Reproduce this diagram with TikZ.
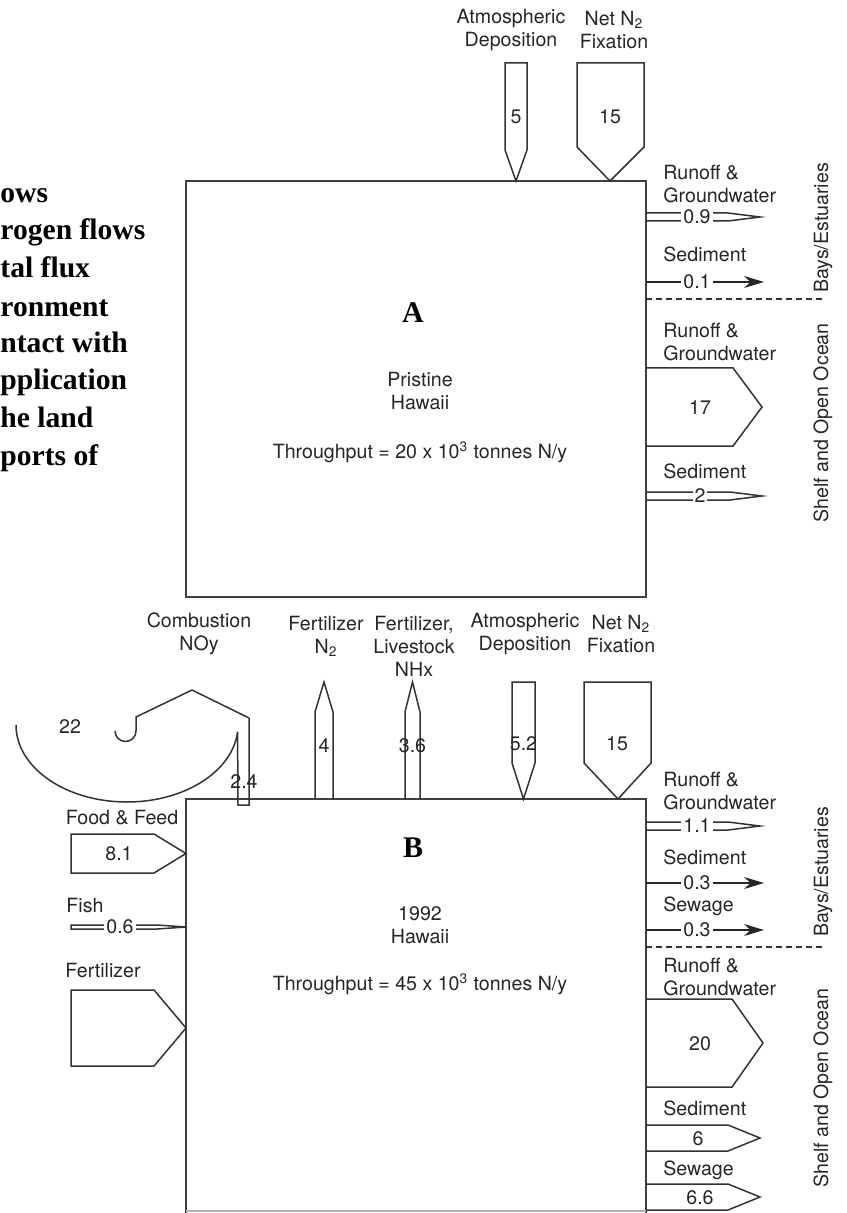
\documentclass[tikz,border=0pt]{standalone}
\usepackage{fontspec}
\setmainfont{Liberation Serif}
\setsansfont{TeX Gyre Heros}
\usetikzlibrary{arrows.meta}
\begin{document}
\begin{tikzpicture}[x=0.5pt,y=-0.5pt,
  every node/.style={inner sep=0pt, text=black!85},
  lbl/.style={font=\sffamily\fontsize{9.8}{11.5}\selectfont, align=center},
  lbll/.style={lbl, align=left, anchor=west},
  num/.style={font=\sffamily\fontsize{9.8}{11.5}\selectfont},
  numw/.style={num, fill=white, inner xsep=1pt, inner ysep=0.5pt},
  flowbox/.style={draw=black!80, line width=0.75pt, line join=miter},
  mainbox/.style={draw=black!75, line width=1pt},
  thinarrow/.style={draw=black!85, line width=0.75pt, -{Stealth[length=10pt,width=6pt]}},
  sidetext/.style={lbl, rotate=90},
  bigtitle/.style={font=\bfseries\fontsize{15}{18}\selectfont},
  cutline/.style={font=\bfseries\fontsize{14.8}{18}\selectfont, anchor=base west, text=black},
]
\useasboundingbox (0,0) rectangle (846,1213);

% ---- caption text at left (shown cropped in the reference)
\node[cutline] (c1) at (0,203) {ows};
\node[cutline] (c2) at (0,240) {rogen flows};
\node[cutline] (c3) at (0,278) {tal flux};
\node[cutline] (c4) at (0,317) {ronment};
\node[cutline] (c5) at (0,353) {ntact with};
\node[cutline] (c6) at (0,390) {pplication};
\node[cutline] (c7) at (0,428) {he land};
\node[cutline] (c8) at (0,465) {ports of};

% =================== PANEL A ===================
\draw[mainbox] (186,181) rectangle (646,597);

% inputs on top
\draw[flowbox] (505,63) -- (527,63) -- (527,150) -- (516,181) -- (505,150) -- cycle;
\node[num] (a5) at (516,117) {5};
\draw[flowbox] (577,63) -- (644,63) -- (644,147) -- (610,181) -- (577,147) -- cycle;
\node[num] (a15) at (610,117) {15};
\node[lbl] (aAtm) at (511,30) {Atmospheric\\Deposition};
\node[lbl] (aFix) at (614,30) {Net N\textsubscript{2}\\Fixation};

% outputs, bays
\node[lbll] (aRun1) at (663,184) {Runoff \&\\Groundwater};
\draw[flowbox] (646,213) -- (728,213) -- (760,217) -- (728,221) -- (646,221);
\node[numw] (a09) at (697,217) {0.9};
\node[lbll] (aSed1) at (663,254) {Sediment};
\coordinate (aS1a) at (646,282);
\coordinate (aS1b) at (764,282);
\draw[thinarrow] (aS1a) -- (aS1b);
\node[numw] (a01) at (697,282) {0.1};
\draw[black!80, line width=0.6pt, dash pattern=on 3pt off 2pt] (646,299) -- (824,299);
\node[sidetext] (aBays) at (823,228) {Bays/Estuaries};

% outputs, shelf
\node[lbll] (aRun2) at (663,342) {Runoff \&\\Groundwater};
\draw[flowbox] (646,368) -- (733,368) -- (762,407) -- (733,446) -- (646,446);
\node[num] (a17) at (700,408) {17};
\node[lbll] (aSed2) at (663,471) {Sediment};
\draw[flowbox] (646,492) -- (730,492) -- (762,496) -- (730,500) -- (646,500);
\node[numw] (a2) at (700,496) {2};
\node[sidetext] (aShelf) at (823,423) {Shelf and Open Ocean};

% centre
\node[bigtitle, text=black] (A) at (413,313) {A};
\node[lbl] (aPr) at (420,391) {Pristine\\Hawaii};
\node[lbl] (aTh) at (420,452) {Throughput = 20 x 10\textsuperscript{3} tonnes N/y};

% =================== PANEL B ===================
\draw[mainbox] (186,1213) -- (186,799) -- (646,799) -- (646,1213);
\draw[black!30, line width=0.8pt] (186,1211) -- (646,1211);

% combustion NOy
\draw[flowbox] (249,718) -- (192,690) -- (136,717) -- (136,731)
  arc[start angle=0, end angle=180, radius=10.5];
\draw[flowbox] (16,725) arc[start angle=180, end angle=5, x radius=111, y radius=77]
  -- (238,805) -- (249,805) -- (249,718);
\node[num] (b22) at (70,727) {22};
\node[num] (b24) at (244,782) {2.4};
\node[lbl] (bComb) at (199,634) {Combustion\\NOy};

% fertilizer N2 (upward)
\draw[flowbox] (315,799) -- (315,712) -- (324,682) -- (333,712) -- (333,799);
\node[num] (b4) at (324,746) {4};
\node[lbl] (bFert) at (326,636) {Fertilizer\\N\textsubscript{2}};

% fertilizer livestock NHx (upward)
\draw[flowbox] (405,799) -- (405,712) -- (412.5,682) -- (420,712) -- (420,799);
\node[num] (b36) at (412.5,746) {3.6};
\node[lbl] (bLive) at (414,646) {Fertilizer,\\Livestock\\NHx};

% atmospheric deposition
\draw[flowbox] (512,682) -- (535,682) -- (535,763) -- (523.5,799) -- (512,763) -- cycle;
\node[num] (b52) at (523.5,744) {5.2};
\node[lbl] (bAtm) at (525,634) {Atmospheric\\Deposition};

% net N2 fixation
\draw[flowbox] (584,682) -- (651,682) -- (651,763) -- (618,799) -- (584,763) -- cycle;
\node[num] (b15) at (617,744) {15};
\node[lbl] (bFix) at (621,634) {Net N\textsubscript{2}\\Fixation};

% left inputs
\node[lbl] (bFood) at (122,818) {Food \& Feed};
\draw[flowbox] (71,834) -- (154,834) -- (186,853.5) -- (154,873) -- (71,873) -- cycle;
\node[num] (b81) at (119,853.5) {8.1};
\node[lbl] (bFish) at (85,905) {Fish};
\draw[flowbox] (71,925) -- (157,925) -- (186,927) -- (157,929) -- (71,929) -- cycle;
\node[numw] (b06) at (120,927) {0.6};
\node[lbl] (bFertL) at (103,970) {Fertilizer};
\draw[flowbox] (71,990) -- (154,990) -- (186,1028) -- (154,1066) -- (71,1066) -- cycle;

% outputs, bays
\node[lbll] (bRun1) at (663,791) {Runoff \&\\Groundwater};
\draw[flowbox] (646,822) -- (728,822) -- (760,826) -- (728,830) -- (646,830);
\node[numw] (b11) at (697,826) {1.1};
\node[lbll] (bSed1) at (663,857) {Sediment};
\coordinate (bS1a) at (646,883);
\coordinate (bS1b) at (764,883);
\draw[thinarrow] (bS1a) -- (bS1b);
\node[numw] (b03a) at (697,883) {0.3};
\node[lbll] (bSew1) at (663,906) {Sewage};
\coordinate (bS2a) at (646,930);
\coordinate (bS2b) at (764,930);
\draw[thinarrow] (bS2a) -- (bS2b);
\node[numw] (b03b) at (697,930) {0.3};
\draw[black!80, line width=0.6pt, dash pattern=on 3pt off 2pt] (646,947) -- (824,947);
\node[sidetext] (bBays) at (823,872) {Bays/Estuaries};

% outputs, shelf
\node[lbll] (bRun2) at (663,977) {Runoff \&\\Groundwater};
\draw[flowbox] (646,999) -- (732,999) -- (763,1043) -- (732,1087) -- (646,1087);
\node[num] (b20) at (700,1044) {20};
\node[lbll] (bSed2) at (663,1108) {Sediment};
\draw[flowbox] (646,1125) -- (728,1125) -- (760,1138) -- (728,1151) -- (646,1151);
\node[num] (b6) at (698,1139) {6};
\node[lbll] (bSew2) at (663,1170) {Sewage};
\draw[flowbox] (646,1184) -- (728,1184) -- (760,1197) -- (728,1210) -- (646,1210);
\node[num] (b66) at (700,1198) {6.6};
\node[sidetext] (bShelf) at (823,1088) {Shelf and Open Ocean};

% centre
\node[bigtitle, text=black] (B) at (413,848) {B};
\node[lbl] (bYr) at (420,925) {1992\\Hawaii};
\node[lbl] (bTh) at (420,984) {Throughput = 45 x 10\textsuperscript{3} tonnes N/y};
\end{tikzpicture}
\end{document}
